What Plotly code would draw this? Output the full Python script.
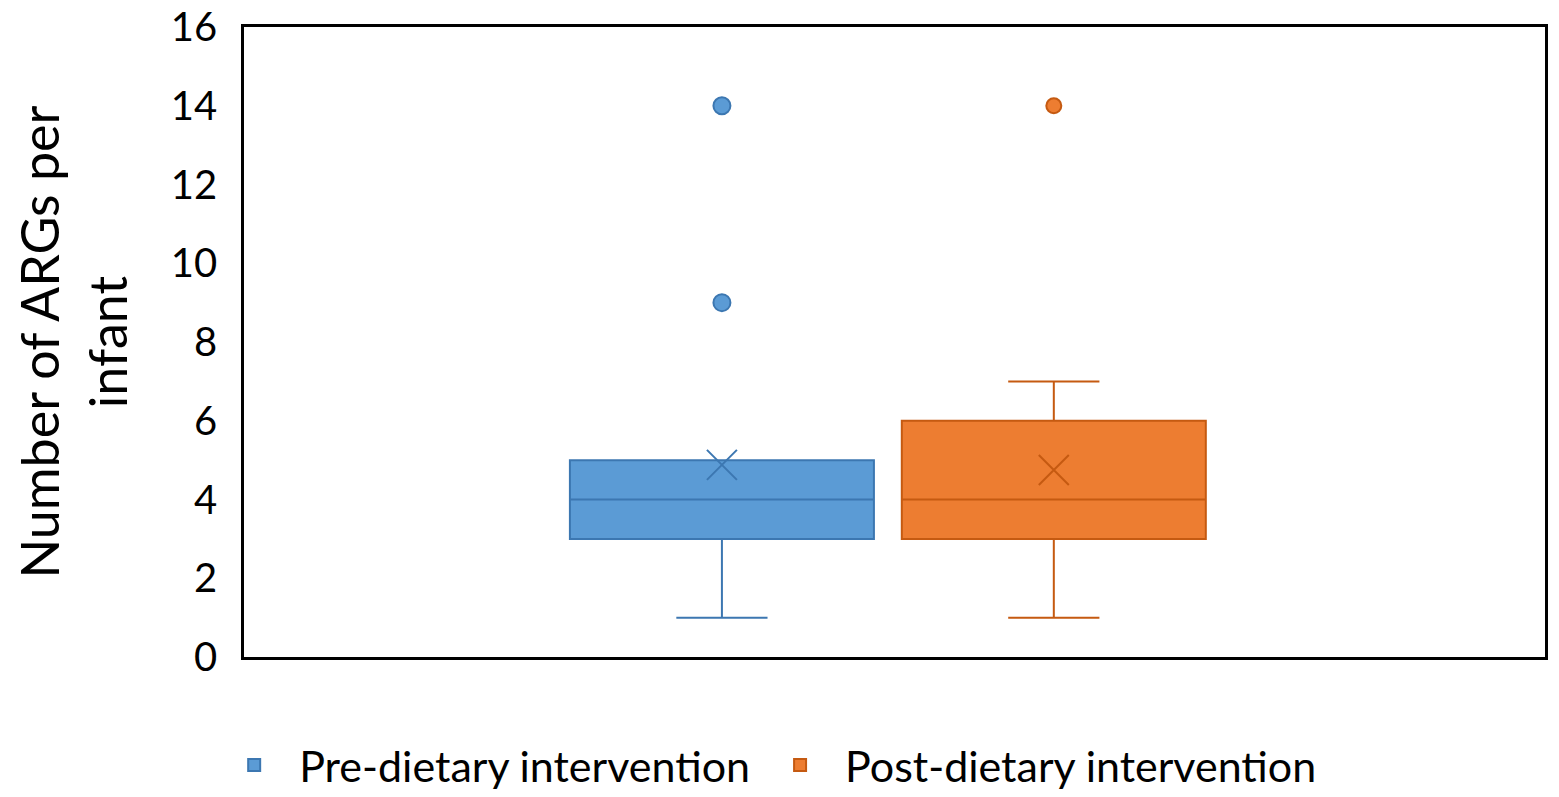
import plotly.graph_objects as go

# box statistics (number of ARGs per infant)
groups = ["Pre-dietary intervention", "Post-dietary intervention"]
positions = [0, 1]
q1 = [3, 3]
median = [4, 4]
q3 = [5, 6]
lower_fence = [1, 1]
upper_fence = [5, 7]
means = [4.88, 4.75]
outliers = [[9, 14], [14]]

fills = ["#5B9BD5", "#ED7D31"]
edges = ["#3C77B1", "#C55A11"]

FONT = "Lato"

fig = go.Figure()

for i in range(len(groups)):
    fig.add_trace(go.Box(
        x=[positions[i]],
        q1=[q1[i]], median=[median[i]], q3=[q3[i]],
        lowerfence=[lower_fence[i]], upperfence=[upper_fence[i]],
        name=groups[i],
        width=0.916,
        whiskerwidth=0.3,
        fillcolor=fills[i],
        line=dict(color=edges[i], width=2),
        boxpoints=False,
        hoverinfo="y",
    ))
    # mean shown as a cross, Excel style
    fig.add_trace(go.Scatter(
        x=[positions[i]], y=[means[i]],
        mode="markers",
        marker=dict(symbol="x-thin-open", size=30, color=edges[i],
                    line=dict(color=edges[i], width=2)),
        showlegend=False, hoverinfo="y",
    ))
    # outlier points
    fig.add_trace(go.Scatter(
        x=[positions[i]] * len(outliers[i]), y=outliers[i],
        mode="markers",
        marker=dict(symbol="circle", size=17 if i == 0 else 15, color=fills[i],
                    line=dict(color=edges[i], width=2)),
        showlegend=False, hoverinfo="y",
    ))

fig.update_xaxes(
    range=[-1.44, 2.48],
    showticklabels=False, showgrid=False, zeroline=False,
    showline=True, mirror=True, linecolor="black", linewidth=2.5,
)
fig.update_yaxes(
    range=[0, 16], dtick=2,
    showgrid=False, zeroline=False, ticks="",
    showline=True, mirror=True, linecolor="black", linewidth=2.5,
    automargin=False,
    ticklabelstandoff=16, ticklabeloverflow="allow",
    tickfont=dict(family=FONT, size=40, color="black"),
    title=dict(text="Number of ARGs per<br>infant",
               font=dict(family=FONT, size=52, color="black"),
               standoff=56),
)

# the page body adds an 8px offset, so margins are trimmed to match
fig.update_layout(
    width=1559, height=797,
    margin=dict(l=236, r=22, t=19, b=148),
    paper_bgcolor="white", plot_bgcolor="white",
    font=dict(family=FONT, color="black"),
    showlegend=True,
    legend=dict(
        orientation="h",
        xref="container", yref="container",
        x=0.486, xanchor="center",
        y=0.05, yanchor="middle",
        font=dict(family=FONT, size=43, color="black"),
        itemwidth=80,
    ),
)

fig.write_html("out.html")
